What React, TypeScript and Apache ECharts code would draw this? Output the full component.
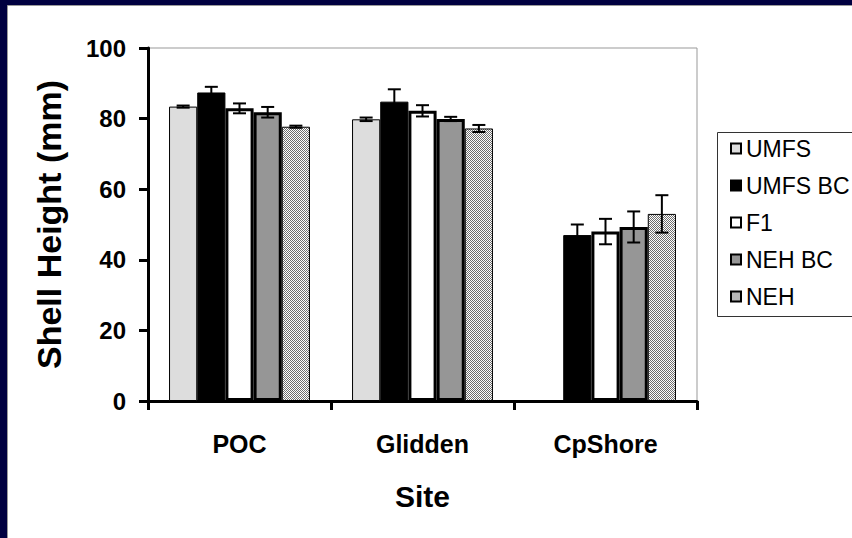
import React, { useEffect, useRef } from 'react';
import * as echarts from 'echarts';

const categories = ['POC', 'Glidden', 'CpShore'];
const seriesNames = ['UMFS', 'UMFS BC', 'F1', 'NEH BC', 'NEH'];
const umfs = [83.4, 79.8, null];
const umfsBC = [87.4, 84.8, 47.0];
const f1 = [82.9, 82.2, 48.0];
const nehBC = [81.8, 79.9, 49.3];
const neh = [77.7, 77.2, 53.0];
const umfsErr = [0.3, 0.5, null];
const umfsBCErr = [1.6, 3.5, 3.0];
const f1Err = [1.4, 1.6, 3.6];
const nehBCErr = [1.5, 0.6, 4.4];
const nehErr = [0.3, 1.0, 5.3];
const yMin = 0;
const yMax = 100;
const yInterval = 20;

const FONT = '"Liberation Sans", Arial, sans-serif';
const CAT_GAP = 0.23;

function makePattern() {
  const c = document.createElement('canvas');
  c.width = 2;
  c.height = 2;
  const ctx = c.getContext('2d')!;
  ctx.fillStyle = '#ffffff';
  ctx.fillRect(0, 0, 2, 2);
  ctx.fillStyle = '#6e6e6e';
  ctx.fillRect(0, 0, 1, 1);
  ctx.fillRect(1, 1, 1, 1);
  return c;
}

export default function App() {
  const ref = useRef<HTMLDivElement>(null);
  useEffect(() => {
    if (!ref.current) return;
    const chart = echarts.init(ref.current, undefined, { renderer: 'svg' });
    const pattern = makePattern();
    const values = [umfs, umfsBC, f1, nehBC, neh];
    const errs = [umfsErr, umfsBCErr, f1Err, nehBCErr, nehErr];
    const styles: any[] = [
      { color: '#dddddd', borderColor: '#000', borderWidth: 1 },
      { color: '#000000', borderColor: '#000', borderWidth: 1 },
      { color: '#ffffff', borderColor: '#000', borderWidth: 3 },
      { color: '#969696', borderColor: '#000', borderWidth: 3 },
      { color: { image: pattern, repeat: 'repeat' }, borderColor: '#000', borderWidth: 1 },
    ];
    const barSeries = seriesNames.map((name, i) => ({
      type: 'bar',
      name,
      data: values[i],
      barGap: '0%',
      barCategoryGap: CAT_GAP * 100 + '%',
      itemStyle: styles[i],
      z: 2,
    }));
    const errSeries = seriesNames.map((name, i) => ({
      type: 'custom',
      name: name + ' error',
      z: 5,
      silent: true,
      encode: { x: 0, y: 1 },
      data: values[i]
        .map((v, k) => (v == null || errs[i][k] == null ? null : [k, v, errs[i][k]]))
        .filter((d) => d != null),
      renderItem: (params: any, api: any) => {
        const x = api.value(0);
        const v = api.value(1);
        const e = api.value(2);
        const c = api.coord([x, v]);
        const bandW = api.size([1, 0])[0];
        const barW = (bandW * (1 - CAT_GAP)) / 5;
        const cx = c[0] + (i - 2) * barW;
        const top = api.coord([x, v + e])[1];
        const bot = api.coord([x, v - e])[1];
        const hw = 6.5;
        const st = { stroke: '#000', lineWidth: 2 };
        return {
          type: 'group',
          children: [
            { type: 'line', shape: { x1: cx, y1: top, x2: cx, y2: bot }, style: st },
            { type: 'line', shape: { x1: cx - hw, y1: top, x2: cx + hw, y2: top }, style: st },
            { type: 'line', shape: { x1: cx - hw, y1: bot, x2: cx + hw, y2: bot }, style: st },
          ],
        };
      },
    }));

    chart.setOption({
      animation: false,
      backgroundColor: '#000040',
      textStyle: { fontFamily: FONT },
      graphic: [
        {
          type: 'rect',
          z: -10,
          shape: { x: 7.5, y: 5.5, width: 860, height: 540 },
          style: { fill: '#ffffff', stroke: '#9a9a9a', lineWidth: 1 },
        },
        {
          type: 'rect',
          z: -5,
          shape: { x: 717.5, y: 132.5, width: 150, height: 184 },
          style: { fill: '#ffffff', stroke: '#333333', lineWidth: 1 },
        },
      ],
      grid: {
        left: 148,
        top: 48,
        right: 155,
        bottom: 137,
        show: true,
        backgroundColor: 'transparent',
        borderColor: '#999999',
        borderWidth: 1,
      },
      legend: {
        show: true,
        orient: 'vertical',
        left: 725,
        top: 132,
        icon: 'rect',
        itemWidth: 10,
        itemHeight: 10,
        itemGap: 14,
        selectedMode: false,
        data: seriesNames,
        textStyle: { fontFamily: FONT, fontSize: 23, color: '#000', padding: [0, 0, 0, 0] },
      },
      xAxis: {
        type: 'category',
        data: categories,
        name: 'Site',
        nameLocation: 'middle',
        nameGap: 80,
        nameTextStyle: { fontFamily: FONT, fontSize: 30, fontWeight: 'bold', color: '#000' },
        axisLine: { lineStyle: { color: '#000', width: 3 } },
        axisTick: { show: true, length: 9, lineStyle: { color: '#000', width: 3 } },
        axisLabel: { margin: 30, fontFamily: FONT, fontSize: 25, fontWeight: 'bold', color: '#000' },
      },
      yAxis: {
        type: 'value',
        min: yMin,
        max: yMax,
        interval: yInterval,
        name: 'Shell Height (mm)',
        nameLocation: 'middle',
        nameGap: 82,
        nameTextStyle: { fontFamily: FONT, fontSize: 34, fontWeight: 'bold', color: '#000' },
        axisLine: { show: true, lineStyle: { color: '#000', width: 3 } },
        axisTick: { show: true, length: 9, lineStyle: { color: '#000', width: 3 } },
        splitLine: { show: false },
        axisLabel: { margin: 22, fontFamily: FONT, fontSize: 24, fontWeight: 'bold', color: '#000' },
      },
      series: [...barSeries, ...errSeries],
    });
    return () => chart.dispose();
  }, []);
  return (
    <div
      ref={ref}
      style={{ position: 'fixed', left: 0, top: 0, width: 852, height: 538 }}
    />
  );
}
